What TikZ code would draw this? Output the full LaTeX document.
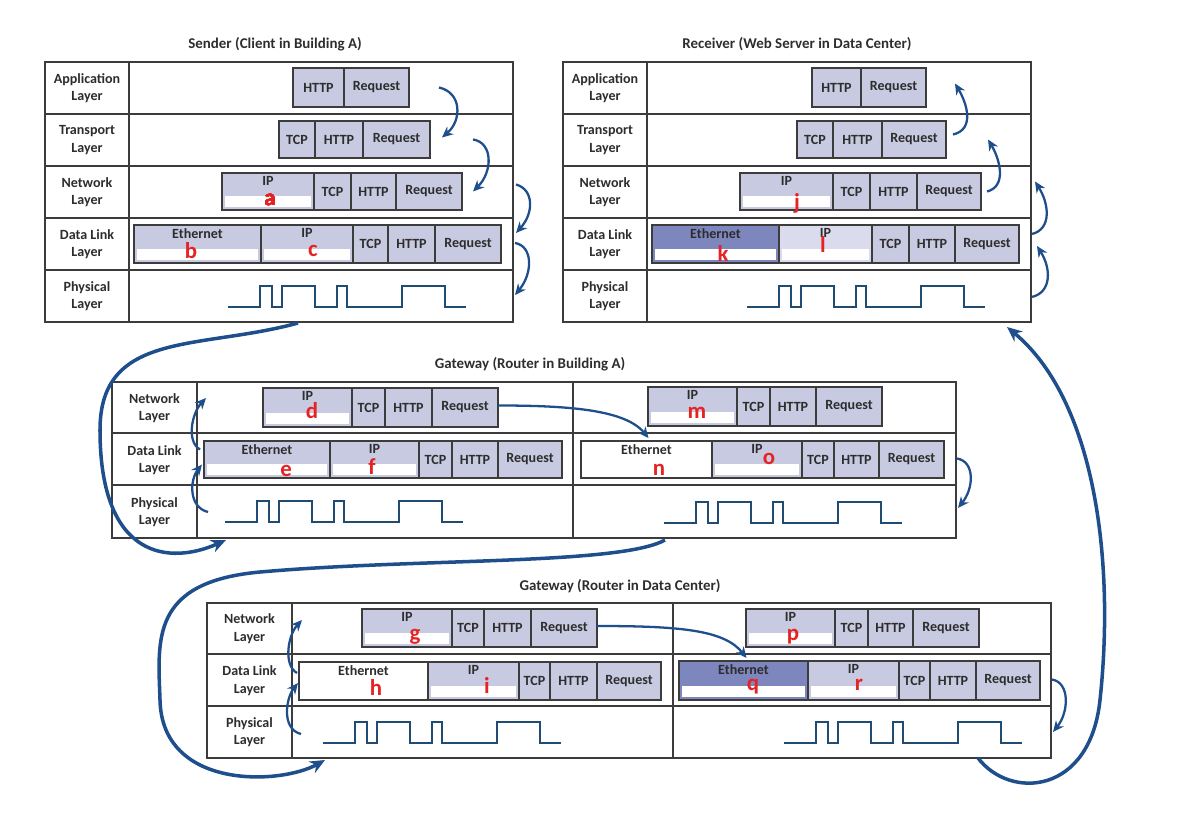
\documentclass[tikz,border=0pt]{standalone}
\usepackage{fontspec}
\setmainfont{Carlito}
\usetikzlibrary{arrows.meta,fit}

\definecolor{pkt}{RGB}{200,202,226}
\definecolor{pktdark}{RGB}{126,134,190}
\definecolor{pktlight}{RGB}{218,219,236}
\definecolor{rule}{RGB}{60,60,60}
\definecolor{ink}{RGB}{45,45,45}
\definecolor{flowblue}{RGB}{30,78,140}
\definecolor{waveblue}{RGB}{32,75,115}
\definecolor{tagred}{RGB}{230,35,35}

% one packet: name, top, bottom, fields x1/x2/text/anchor/style
\newcommand{\pkt}[4]{%
  \foreach \xa/\xb/\txt/\anc/\sty [count=\k] in {#4} {
    \node[\sty, fit={(\xa,#2) (\xb,#3)}] (#1-\k) {};
    \node[ftxt, anchor=\anc] at (#1-\k.\anc) {\txt};
  }}
% white address strip inside a field
\newcommand{\whitestrip}[1]{%
  \fill[white] ([shift={(3,-3)}]#1.south west) rectangle ([shift={(-3,-14)}]#1.south east);}

\tikzset{signal/.pic={
  \draw[sig] (0,0) -- ++(32,0) -- ++(0,-21) -- ++(12,0) -- ++(0,21) -- ++(10,0)
    -- ++(0,-21) -- ++(33,0) -- ++(0,21) -- ++(22,0) -- ++(0,-21) -- ++(10,0)
    -- ++(0,21) -- ++(55,0) -- ++(0,-21) -- ++(43,0) -- ++(0,21) -- ++(21,0);
}}

\begin{document}
\begin{tikzpicture}[x=0.02cm,y=-0.02cm,
    fld/.style={draw=rule,fill=pkt,line width=0.6pt,inner sep=0pt,outer sep=0pt},
    fldw/.style={fld,fill=white},
    fldd/.style={fld,fill=pktdark},
    fldl/.style={fld,fill=pktlight},
    ftxt/.style={font=\bfseries\fontsize{8}{10}\selectfont,text=ink,inner sep=2pt},
    lay/.style={align=center,font=\bfseries\fontsize{8}{10}\selectfont,text=ink},
    ttl/.style={font=\bfseries\fontsize{8.5}{10}\selectfont,text=ink},
    frame/.style={draw=rule,line width=0.8pt,inner sep=0pt,outer sep=0pt},
    tag/.style={text=tagred,font=\bfseries\fontsize{13}{13}\selectfont,inner sep=0pt},
    sig/.style={draw=waveblue,line width=1.1pt},
    flow/.style={draw=flowblue,line width=1.3pt,-{Stealth[length=2.2mm,width=2mm]}},
    bigflow/.style={flow,line width=2pt,-{Stealth[length=3mm,width=2.6mm]}}]
  \useasboundingbox (0,0) rectangle (1190,814);

  % sender
  \node[ttl] (tsnd) at (275,44) {Sender (Client in Building A)};
  \node[frame,fit={(45,62) (513,322)}] (snd) {};
  \foreach \k in {1,...,4} \draw[frame] (45,62+52*\k) -- (513,62+52*\k);
  \draw[frame] (129,62) -- (129,322);
  \foreach \t [count=\k] in {Application,Transport,Network,Data Link,Physical}
    \node[lay] (sL\k) at (87,{62+52*(\k-0.5)}) {\t\\Layer};
  \pkt{s1}{68}{107}{293/344/HTTP/center/fld, 344/409/Request/center/fld}
  \pkt{s2}{121}{158}{279/315/TCP/center/fld, 315/363/HTTP/center/fld, 363/430/Request/center/fld}
  \pkt{s3}{173}{210}{222/314/IP/north/fld, 314/351/TCP/center/fld, 351/396/HTTP/center/fld, 396/462/Request/center/fld}
  \pkt{s4}{225}{263}{134/261/Ethernet/north/fld, 261/353/IP/north/fld, 353/388/TCP/center/fld, 388/435/HTTP/center/fld, 435/501/Request/center/fld}
  \pic at (228,307) {signal};

  % receiver
  \node[ttl] (trcv) at (797,44) {Receiver (Web Server in Data Center)};
  \node[frame,fit={(563,62) (1031,322)}] (rcv) {};
  \foreach \k in {1,...,4} \draw[frame] (563,62+52*\k) -- (1031,62+52*\k);
  \draw[frame] (647,62) -- (647,322);
  \foreach \t [count=\k] in {Application,Transport,Network,Data Link,Physical}
    \node[lay] (rL\k) at (605,{62+52*(\k-0.5)}) {\t\\Layer};
  \pkt{r1}{68}{107}{812/861/HTTP/center/fld, 861/926/Request/center/fld}
  \pkt{r2}{121}{158}{797/833/TCP/center/fld, 833/882/HTTP/center/fld, 882/946/Request/center/fld}
  \pkt{r3}{173}{210}{740/833/IP/north/fld, 833/870/TCP/center/fld, 870/917/HTTP/center/fld, 917/981/Request/center/fld}
  \pkt{r4}{225}{263}{652/779/Ethernet/north/fldd, 779/872/IP/north/fldl, 872/909/TCP/center/fld, 909/955/HTTP/center/fld, 955/1019/Request/center/fld}
  \pic at (747,307) {signal};

  % gateway in building A
  \node[ttl] (tgwa) at (530,364) {Gateway (Router in Building A)};
  \node[frame,fit={(112,382) (956,538)}] (gwa) {};
  \draw[frame] (112,433) -- (956,433) (112,485) -- (956,485);
  \draw[frame] (197,382) -- (197,538) (573,382) -- (573,538);
  \foreach \t [count=\k] in {Network,Data Link,Physical}
    \node[lay] (aL\k) at (154.5,{382+52*(\k-0.5)}) {\t\\Layer};
  \pkt{a1}{388}{427}{263/352/IP/north/fld, 352/385/TCP/center/fld, 385/432/HTTP/center/fld, 432/498/Request/center/fld}
  \pkt{a2}{441}{478}{204/330/Ethernet/north/fld, 330/419/IP/north/fld, 419/452/TCP/center/fld, 452/498/HTTP/center/fld, 498/562/Request/center/fld}
  \pkt{a3}{387}{426}{648/737/IP/north/fld, 737/770/TCP/center/fld, 770/816/HTTP/center/fld, 816/882/Request/center/fld}
  \pkt{a4}{441}{478}{581/712/Ethernet/north/fldw, 712/802/IP/north/fld, 802/834/TCP/center/fld, 834/879/HTTP/center/fld, 879/944/Request/center/fld}
  \pic at (225,522) {signal};
  \pic at (664,523) {signal};

  % gateway in data center
  \node[ttl] (tgwd) at (620,586) {Gateway (Router in Data Center)};
  \node[frame,fit={(207,603) (1051,758)}] (gwd) {};
  \draw[frame] (207,654) -- (1051,654) (207,706) -- (1051,706);
  \draw[frame] (292,603) -- (292,758) (673,603) -- (673,758);
  \foreach \t [count=\k] in {Network,Data Link,Physical}
    \node[lay] (dL\k) at (249.5,{603+51.7*(\k-0.5)}) {\t\\Layer};
  \pkt{d1}{609}{647}{362/452/IP/north/fld, 452/484/TCP/center/fld, 484/531/HTTP/center/fld, 531/597/Request/center/fld}
  \pkt{d2}{662}{700}{299/428/Ethernet/north/fldw, 428/519/IP/north/fld, 519/550/TCP/center/fld, 550/597/HTTP/center/fld, 597/661/Request/center/fld}
  \pkt{d3}{609}{647}{746/835/IP/north/fld, 835/868/TCP/center/fld, 868/913/HTTP/center/fld, 913/979/Request/center/fld}
  \pkt{d4}{661}{700}{679/808/Ethernet/north/fldd, 808/899/IP/north/fld, 899/930/TCP/center/fld, 930/976/HTTP/center/fld, 976/1040/Request/center/fld}
  \pic at (323,743) {signal};
  \pic at (784,743) {signal};

  % address strips and their letters
  \foreach \f in {s3-1,s4-1,s4-2,r3-1,r4-1,r4-2,a1-1,a2-1,a2-2,a3-1,a4-2,d1-1,d2-2,d3-1,d4-1,d4-2}
    \whitestrip{\f}
  \node[tag] (la) at (270,200) {a};
  \node[tag] (lb) at (191,251) {b};
  \node[tag] (lc) at (313,251) {c};
  \node[tag] (ld) at (312,411) {d};
  \node[tag] (le) at (286,471) {e};
  \node[tag] (lf) at (372,467) {f};
  \node[tag] (lg) at (415,637) {g};
  \node[tag] (lh) at (376,687) {h};
  \node[tag] (li) at (487,685) {i};
  \node[tag] (lj) at (797,203) {j};
  \node[tag] (lk) at (723,253) {k};
  \node[tag] (ll) at (823,244) {l};
  \node[tag] (lm) at (697,413) {m};
  \node[tag] (ln) at (659,470) {n};
  \node[tag] (lo) at (769,459) {o};
  \node[tag] (lp) at (793,637) {p};
  \node[tag] (lq) at (753,687) {q};
  \node[tag] (lr) at (859,685) {r};

  % sender: down the stack
  \draw[flow] ([shift={(30,0)}]s1-2.east) .. controls +(23,5) and +(20,-17) .. ([shift={(12,-2)}]s2-3.east);
  \draw[flow] ([shift={(43,0)}]s2-3.east) .. controls +(20,3) and +(20,-20) .. ([shift={(11,0)}]s3-4.east);
  \draw[flow] ([shift={(54,-7)}]s3-4.east) .. controls +(18,5) and +(18,-20) .. ([shift={(15,-11)}]s4-5.east);
  \draw[flow] ([shift={(14,-1)}]s4-5.east) .. controls +(18,3) and +(18,-22) .. ([shift={(2,-27)}]snd.south east);
  % sender to gateway A
  \draw[bigflow] ([shift={(19,1)}]snd.south) .. controls (200,350) and (100,330) .. (100,430)
    .. controls (100,560) and (170,565) .. ([shift={(114,2)}]gwa.south west);
  % gateway A
  \draw[flow] ([shift={(4,34)}]a2-1.south west) .. controls +(-20,-5) and +(-12,15) .. ([shift={(-2,5)}]a2-1.west);
  \draw[flow] ([shift={(-4,-10)}]a2-1.west) .. controls +(-14,-8) and +(-14,15) .. ([shift={(94,16)}]gwa.north west);
  \draw[flow] ([shift={(0,-2)}]a1-4.east) .. controls +(72,0) and +(-23,-28) .. ([shift={(2,-3)}]a4-1.north);
  \draw[flow] ([shift={(13,-1)}]a4-5.east) .. controls +(18,3) and +(16,-20) .. ([shift={(2,-30)}]gwa.south east);
  % gateway A to gateway in data center
  \draw[bigflow] ([shift={(131,2)}]gwa.south) .. controls (620,565) and (420,558) .. (260,572)
    .. controls (150,582) and (158,640) .. (160,700)
    .. controls (162,790) and (280,785) .. ([shift={(118,2)}]gwd.south west);
  % gateway in data center
  \draw[flow] ([shift={(2,34)}]d2-1.south west) .. controls +(-20,-5) and +(-12,15) .. ([shift={(-1,2)}]d2-1.west);
  \draw[flow] ([shift={(-2,-8)}]d2-1.west) .. controls +(-14,-8) and +(-14,15) .. ([shift={(95,17)}]gwd.north west);
  \draw[flow] ([shift={(0,-2)}]d1-4.east) .. controls +(83,0) and +(-22,-28) .. ([shift={(3,-3)}]d4-1.north);
  \draw[flow] ([shift={(12,-1)}]d4-5.east) .. controls +(18,3) and +(16,-20) .. ([shift={(2,-26)}]gwd.south east);
  % gateway in data center to receiver
  \draw[bigflow] ([shift={(-73,0)}]gwd.south east) .. controls (1010,800) and (1090,795) .. (1100,700)
    .. controls (1115,560) and (1095,400) .. ([shift={(-24,5)}]rcv.south east);
  % receiver: up the stack
  \draw[flow] ([shift={(1,-25)}]rcv.south east) .. controls +(20,-5) and +(14,22) .. ([shift={(18,2)}]r4-5.east);
  \draw[flow] ([shift={(13,-10)}]r4-5.east) .. controls +(20,-5) and +(14,22) .. ([shift={(54,-10)}]r3-4.east);
  \draw[flow] ([shift={(6,0)}]r3-4.east) .. controls +(20,-5) and +(12,20) .. ([shift={(42,0)}]r2-3.east);
  \draw[flow] ([shift={(7,-5)}]r2-3.east) .. controls +(22,-5) and +(12,20) .. ([shift={(29,-4)}]r1-2.east);
\end{tikzpicture}
\end{document}
